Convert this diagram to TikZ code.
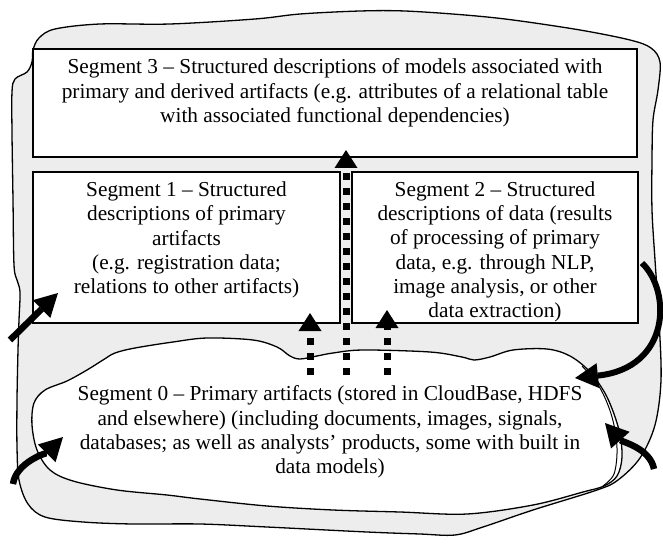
\documentclass[tikz,border=0pt]{standalone}
\usepackage{fontspec}
\setmainfont{Liberation Serif}
\usetikzlibrary{arrows.meta}

\begin{document}
\begin{tikzpicture}[x=1pt,y=-1pt,
  blobline/.style={line width=1.3pt, line join=round},
  segbox/.style={draw, fill=white, line width=1.6pt, inner sep=0pt},
  segtext/.style={align=center, inner sep=0pt, font=\fontsize{21.3}{24.3}\selectfont},
  bigarrow/.style={line width=6.5pt, -{Triangle[length=23pt,width=25pt,line width=0pt]}},
  dotarrow/.style={line width=7pt, dash pattern=on 7pt off 8pt,
                   -{Triangle[length=18pt,width=23pt,line width=0pt]}},
]
\useasboundingbox (0,0) rectangle (663,548);

% outer region, shaded
\filldraw[blobline, fill=black!7]
  plot[smooth cycle, tension=0.55] coordinates {
  (33,50) (39,38) (55,29) (100,24) (170,24) (255,19) (300,14) (360,11)
  (405,11) (465,15) (513,20) (580,30) (630,40) (651,48) (660,62) (658,90)
  (653,120) (652,160) (652,210) (655,260) (659,320) (661,380) (655,425)
  (640,458) (618,480) (597,490) (533,510) (483,527) (455,535) (420,534)
  (367,532) (267,527) (200,524) (133,524) (83,522) (45,517) (28,504)
  (19,480) (17,447) (17,400) (18,350) (19,320) (20,292) (17,280) (14,265)
  (13,200) (12,133) (12,92) (15,79) (27,72) (32,62)};

% segment 0 cloud
\filldraw[blobline, fill=white]
  plot[smooth cycle, tension=0.55] coordinates {
  (34,403) (45,390) (67,381) (87,370) (103,360) (115,353) (135,348)
  (173,342) (207,338) (253,340) (277,347) (290,356) (300,359) (317,356)
  (333,353) (363,350) (430,352) (462,357) (474,360) (490,357) (513,350)
  (547,349) (570,356) (590,372) (607,397) (619,430) (622,457) (617,476)
  (604,486) (583,492) (533,505) (467,514) (400,512) (333,510) (267,506)
  (200,499) (167,495) (117,490) (73,481) (50,470) (37,450) (32,425)};
% second pen stroke along the cloud's right rim
\draw[line width=1pt]
  plot[smooth, tension=0.55] coordinates {
  (582,366) (600,388) (612,417) (617,448) (614,474) (603,486)};

% segment boxes
\node[segbox, minimum width=604pt, minimum height=108pt] (seg3) at (335,103) {};
\node[segbox, minimum width=307pt, minimum height=151pt] (seg1) at (186.5,247.5) {};
\node[segbox, minimum width=286pt, minimum height=151pt] (seg2) at (495,247.5) {};

% texts
\node[segtext] (seg3txt) at (335,93)
  {Segment 3 – Structured descriptions of models associated with\\
   primary and derived artifacts (e.g. attributes of a relational table\\
   with associated functional dependencies)};
\node[segtext] (seg1txt) at (186.5,240)
  {Segment 1 – Structured\\ descriptions of primary\\ artifacts\\
   (e.g. registration data;\\ relations to other artifacts)};
\node[segtext] (seg2txt) at (495,252)
  {Segment 2 – Structured\\ descriptions of data (results\\ of processing of primary\\
   data, e.g. through NLP,\\ image analysis, or other\\ data extraction)};
\node[segtext] (seg0txt) at (330,432)
  {Segment 0 – Primary artifacts (stored in CloudBase, HDFS\\
   and elsewhere) (including documents, images, signals,\\
   databases; as well as analysts’ products, some with built in\\
   data models)};

% connector end points
\coordinate (inA)    at (10,340);
\coordinate (inAtip) at (58,293);
\coordinate (inB)    at (13,484);
\coordinate (inBtip) at (63,437);
\coordinate (inC)    at (654,469);
\coordinate (inCtip) at (605,423);
\coordinate (back)   at (642,263);
\coordinate (backtip) at (575,378);
\coordinate (upL)    at (310,375);
\coordinate (upLtip) at (310,313);
\coordinate (upM)    at (346,375);
\coordinate (upMtip) at (346,150);
\coordinate (upR)    at (387,375);
\coordinate (upRtip) at (387,310);

% solid arrows
\draw[bigarrow] (inA) -- (inAtip);
\draw[bigarrow] (inB) .. controls (16,462) and (48,452) .. (inBtip);
\draw[bigarrow] (inC) .. controls (650,448) and (622,442) .. (inCtip);
\draw[bigarrow, line width=6pt] (back) .. controls (672,292) and (670,368) .. (backtip);

% dotted arrows
\draw[dotarrow] (upL) -- (upLtip);
\draw[dotarrow] (upM) -- (upMtip);
\draw[dotarrow] (upR) -- (upRtip);
\end{tikzpicture}
\end{document}
